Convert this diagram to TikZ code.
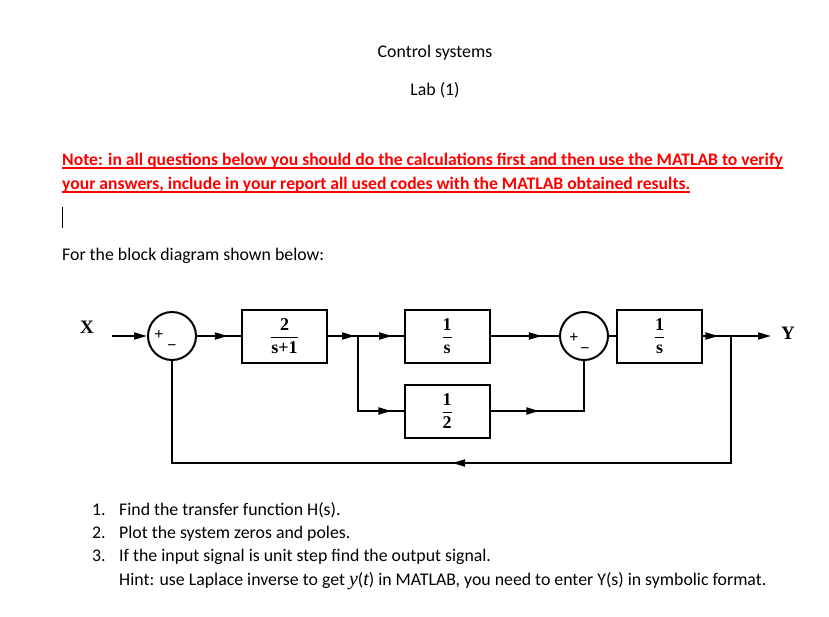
\documentclass[tikz,border=0pt]{standalone}
\usepackage{fontspec}
\usepackage{amsmath}
\setmainfont{Carlito}
\newfontfamily\dgfont{Liberation Serif}
\usetikzlibrary{arrows.meta,positioning,calc,decorations.markings}
\definecolor{notered}{HTML}{FF0000}
\definecolor{ink}{HTML}{000000}
\tikzset{
  bodytext/.style={anchor=base west, inner sep=0pt,
    font=\fontsize{17.8}{20}\selectfont},
  notetext/.style={bodytext, text=notered, font=\fontsize{17.6}{20}\selectfont\bfseries},
  blockbox/.style={rectangle, draw=ink, line width=2pt,
    minimum width=85pt, minimum height=53pt, inner sep=0pt,
    font=\dgfont\bfseries\fontsize{18}{20}\selectfont},
  sumnode/.style={circle, draw=ink, line width=2pt,
    minimum size=48pt, inner sep=0pt},
  signal/.style={line width=2pt, draw=ink},
  tipat/.style={signal, postaction={decorate},
    decoration={markings, mark=at position #1 with
      {\arrow{Triangle[length=13pt,width=7pt]}}}},
  endtip/.style={signal, -{Triangle[length=13pt,width=7pt]}},
  siglabel/.style={font=\dgfont\bfseries\fontsize{19}{20}\selectfont, inner sep=0pt},
  signmark/.style={font=\dgfont\bfseries\fontsize{16}{16}\selectfont, inner sep=0pt},
}
\newcommand{\blockfrac}[2]{$\genfrac{}{}{1.2pt}{0}{\mbox{#1}}{\mbox{#2}}$}
\newcommand{\redline}[1]{\setbox0\hbox{#1}\rlap{\rule[-3.5pt]{\wd0}{1.3pt}}\box0}

\begin{document}
\begin{tikzpicture}[x=1pt, y=-1pt]
\useasboundingbox (0,0) rectangle (829,616);

% heading
\node[bodytext, anchor=base] (title) at (435,57) {Control systems};
\node[bodytext, anchor=base] (lab) at (435,95) {Lab (1)};

\node[notetext] (note1) at (62,165) {\redline{Note: in all questions below you should do the calculations first and then use the MATLAB to verify}};
\node[notetext] (note2) at (62,189) {\redline{your answers, include in your report all used codes with the MATLAB obtained results.}};
\draw[line width=1pt] (62,207) -- (62,228);

\node[bodytext] (intro) at (62,260) {For the block diagram shown below:};

% block diagram
\node[siglabel] (xlab) at (87,327) {X};
\coordinate (xin) at (112,336);
\node[sumnode] (sum1) at (172,336) {};
\node[signmark] (p1) at (159,335) {+};
\node[signmark] (m1) at (172,348) {\char"2212};
\node[blockbox] (g1) at (284.5,336) {\blockfrac{2}{s+1}};
\coordinate (branch1) at (358,336);
\node[blockbox] (g2) at (447,336) {\blockfrac{1}{s}};
\node[blockbox] (g4) at (447,411) {\blockfrac{1}{2}};
\node[sumnode] (sum2) at (584,336) {};
\node[signmark] (p2) at (574,338) {+};
\node[signmark] (m2) at (585,351) {\char"2212};
\node[blockbox] (g3) at (659.5,336) {\blockfrac{1}{s}};
\coordinate (branch2) at (731,336);
\coordinate (yout) at (771,336);
\node[siglabel] (ylab) at (788,333) {Y};
\coordinate (fbr) at (731,463);

\draw[endtip] (xin) -- (sum1.west);
\draw[tipat=0.7] (sum1.east) -- (g1.west);
\draw[tipat=0.9] (g1.east) -- (branch1);
\draw[tipat=0.75] (branch1) -- (g2.west);
\draw[tipat=0.9] (branch1) |- (g4.west);
\draw[tipat=0.75] (g2.east) -- (sum2.west);
\draw[tipat=0.34] (g4.east) -| (sum2.south);
\draw[signal] (sum2.east) -- (g3.west);
\draw[tipat=0.55] (g3.east) -- (branch2);
\draw[endtip] (branch2) -- (yout);
\draw[tipat=0.515] (branch2) -- (fbr) -| (sum1.south);

% questions
\node[bodytext] (n1) at (92,515) {1.};
\node[bodytext] (q1) at (119,515) {Find the transfer function H(s).};
\node[bodytext] (n2) at (92,538) {2.};
\node[bodytext] (q2) at (119,538) {Plot the system zeros and poles.};
\node[bodytext] (n3) at (92,561) {3.};
\node[bodytext] (q3) at (119,561) {If the input signal is unit step find the output signal.};
\node[bodytext] (hint) at (119,585) {Hint: use Laplace inverse to get {\dgfont\itshape\fontsize{20}{20}\selectfont y}({\dgfont\itshape\fontsize{20}{20}\selectfont t}) in MATLAB, you need to enter Y(s) in symbolic format.};
\end{tikzpicture}
\end{document}
